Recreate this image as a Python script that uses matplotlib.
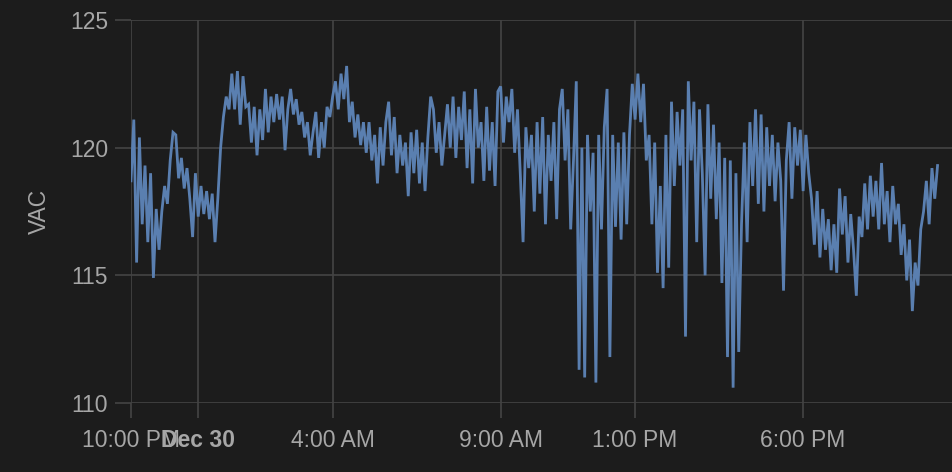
import matplotlib.pyplot as plt
import pandas as pd

# voltage readings, one every 5 minutes from 10 PM Dec 29
volts = [
    118.7, 121.1, 115.5, 120.4, 117.0, 119.3, 116.3, 119.0, 114.9, 117.6, 116.0, 117.5,
    118.5, 117.8, 119.5, 120.6, 120.5, 118.8, 119.6, 118.4, 119.2, 118.0, 116.5, 119.0,
    117.3, 118.5, 117.4, 118.3, 117.2, 118.2, 116.3, 118.0, 120.0, 121.2, 122.0, 121.5,
    122.9, 121.5, 123.0, 120.9, 122.8, 121.6, 121.7, 120.2, 121.6, 119.7, 121.5, 120.3,
    122.3, 120.6, 122.0, 121.0, 122.1, 121.1, 122.0, 119.9, 121.5, 122.3, 121.3, 121.9,
    120.9, 121.4, 120.4, 121.0, 119.7, 120.6, 121.4, 119.6, 121.0, 120.0, 121.6, 121.2,
    122.0, 122.6, 121.5, 122.9, 121.9, 123.2, 121.0, 121.8, 120.4, 121.3, 120.1, 121.0,
    119.8, 121.0, 119.5, 120.5, 118.6, 120.8, 119.3, 121.0, 121.8, 119.7, 121.2, 119.0,
    120.5, 119.3, 120.2, 118.1, 120.6, 119.0, 120.7, 118.6, 120.2, 118.3, 120.4, 122.0,
    121.5, 119.8, 121.0, 119.3, 120.5, 121.7, 120.0, 122.0, 119.6, 121.6, 120.3, 122.2,
    119.2, 121.5, 118.6, 122.3, 120.0, 121.0, 118.7, 121.6, 119.1, 121.0, 118.5, 122.2,
    122.4, 120.2, 122.0, 121.0, 122.3, 119.8, 121.5, 119.0, 116.3, 120.8, 119.2, 120.5,
    117.5, 121.0, 118.2, 121.2, 117.0, 120.5, 118.7, 121.0, 117.2, 121.5, 122.3, 119.5,
    121.5, 116.8, 119.5, 122.6, 111.3, 120.0, 111.0, 120.5, 117.5, 119.8, 110.8, 120.5,
    116.8, 120.8, 122.3, 111.8, 120.5, 116.9, 120.2, 116.4, 120.6, 117.0, 120.5, 122.5,
    121.1, 122.9, 121.0, 122.5, 119.5, 120.5, 117.0, 120.2, 115.1, 118.5, 114.5, 120.5,
    115.3, 121.8, 118.5, 121.4, 119.3, 121.5, 112.6, 122.6, 119.5, 121.8, 116.3, 121.5,
    119.0, 115.0, 121.7, 118.0, 120.9, 117.2, 120.2, 114.7, 119.6, 111.8, 119.5, 110.6,
    119.0, 112.0, 117.0, 120.2, 116.3, 121.0, 118.5, 121.5, 117.8, 121.3, 117.5, 120.8,
    118.5, 120.5, 117.9, 120.2, 118.7, 114.4, 119.5, 121.0, 118.0, 120.8, 119.3, 120.7,
    118.3, 120.5, 119.0, 118.0, 116.2, 118.3, 115.7, 117.6, 116.0, 117.2, 115.2, 117.0,
    115.1, 118.4, 116.6, 118.1, 115.5, 117.4, 116.0, 114.2, 117.3, 116.5, 118.6, 116.8,
    118.9, 117.3, 118.7, 116.8, 119.4, 117.0, 118.3, 116.3, 118.5, 117.0, 117.8, 115.8,
    117.0, 114.8, 116.4, 113.6, 115.5, 114.6, 116.8, 117.5, 118.7, 117.0, 119.2, 118.0, 119.3,
]
times = pd.date_range("2023-12-29 22:00", periods=len(volts), freq="5min")

tick_times = pd.to_datetime(["2023-12-29 22:00", "2023-12-30 00:00", "2023-12-30 04:00",
                             "2023-12-30 09:00", "2023-12-30 13:00", "2023-12-30 18:00"])
tick_labels = ["10:00 PM", "Dec 30", "4:00 AM", "9:00 AM", "1:00 PM", "6:00 PM"]
y_ticks = [110, 115, 120, 125]

bg = "#1c1c1c"
grid = "#444444"
txt = "#a6a6a6"

fig = plt.figure(figsize=(9.52, 4.72), dpi=100, facecolor=bg)
ax = fig.add_axes([131 / 952, 69 / 472, 821 / 952, 383 / 472], facecolor=bg)

ax.plot(times, volts, color="#5a7fb0", lw=2.0, solid_joinstyle="miter")

ax.set_xlim(pd.Timestamp("2023-12-29 22:00"), pd.Timestamp("2023-12-29 22:00") + pd.Timedelta(hours=24.43))
ax.set_ylim(110, 125)
ax.set_yticks(y_ticks)
ax.set_xticks(tick_times)
ax.set_xticklabels(tick_labels)
ax.get_xticklabels()[1].set_fontweight("bold")

for s in ax.spines.values():
    s.set_visible(False)
ax.grid(True, color=grid, lw=1.2)
ax.set_axisbelow(True)
ax.tick_params(axis="y", length=11.5, width=1.2, color=grid, labelcolor=txt, labelsize=16.5, pad=5)
ax.tick_params(axis="x", length=11, width=1.2, color=grid, labelcolor=txt, labelsize=16.5, pad=8)
for lab in ax.get_xticklabels() + ax.get_yticklabels():
    lab.set_family("Liberation Sans")

ax.set_ylabel("VAC", color=txt, fontsize=16.5, family="Liberation Sans", labelpad=14)

fig.savefig("out.png", facecolor=bg)
